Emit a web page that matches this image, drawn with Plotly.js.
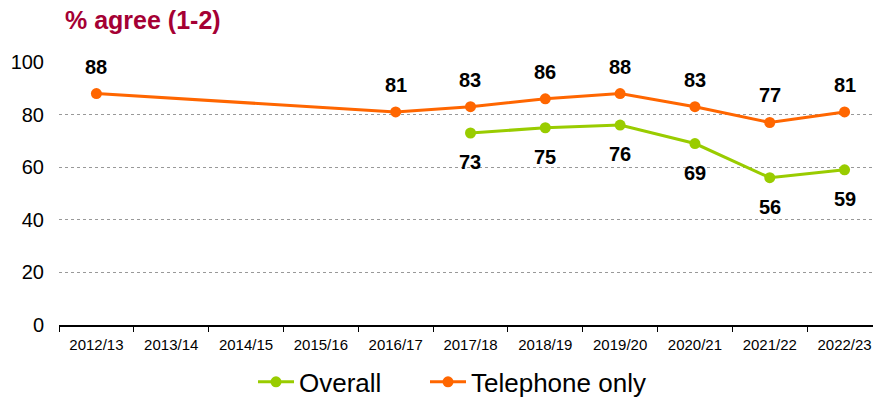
<!DOCTYPE html>
<html><head><meta charset="utf-8">
<script src="https://cdn.plot.ly/plotly-3.0.1.min.js"></script>
<style>body{margin:0;background:#fff}#c{width:873px;height:402px}</style>
</head><body><div id="c"></div>
<script>
var years = ["2012/13","2013/14","2014/15","2015/16","2016/17","2017/18","2018/19","2019/20","2020/21","2021/22","2022/23"];
var telephone = [88, null, null, null, 81, 83, 86, 88, 83, 77, 81];
var overall = [null, null, null, null, null, 73, 75, 76, 69, 56, 59];
var yTicks = [0, 20, 40, 60, 80, 100];

var orange = "#FF6600", green = "#99CC00";
var traces = [
  {x: years, y: overall, name: "Overall", type: "scatter", mode: "lines+markers", legend: "legend",
   line: {color: green, width: 3}, marker: {color: green, size: 11}, connectgaps: true, hoverinfo: "none"},
  {x: years, y: telephone, name: "Telephone only", type: "scatter", mode: "lines+markers", legend: "legend2",
   line: {color: orange, width: 3}, marker: {color: orange, size: 11}, connectgaps: true, hoverinfo: "none"}
];
var lblFont = {family: "Arial, Liberation Sans", size: 20, color: "#000", weight: "bold"};
var ann = [];
years.forEach(function(yr, i){
  if (telephone[i] != null) ann.push({x: yr, y: telephone[i], text: String(telephone[i]), showarrow: false, yshift: 27, font: lblFont});
  if (overall[i] != null) ann.push({x: yr, y: overall[i], text: String(overall[i]), showarrow: false, yshift: -29, font: lblFont});
});
ann.push({xref: "paper", yref: "paper", x: 0.005, y: 1.16, xanchor: "left", yanchor: "middle", showarrow: false,
  text: "<b>% agree (1-2)</b>", font: {family: "Arial, Liberation Sans", size: 25, color: "#A50034"}});

function legendAt(px) {
  return {orientation: "h", x: px/873, xanchor: "left", xref: "container", yref: "container", y: 0.05, yanchor: "middle",
    font: {family: "Arial, Liberation Sans", size: 26, color: "#000"}, itemwidth: 36, bgcolor: "rgba(0,0,0,0)"};
}
var layout = {
  width: 873, height: 402,
  margin: {l: 59, r: 0, t: 62, b: 77, autoexpand: false},
  paper_bgcolor: "#fff", plot_bgcolor: "#fff",
  showlegend: true,
  legend: legendAt(253),
  legend2: legendAt(425),
  xaxis: {type: "category", range: [-0.5, 10.38], tickson: "boundaries", ticks: "outside", ticklen: 5,
    tickcolor: "#000", showgrid: false, showline: true, linecolor: "#000", linewidth: 1.5, ticklabelstandoff: 5,
    tickfont: {family: "Arial, Liberation Sans", size: 15, color: "#000"}, fixedrange: true, automargin: false},
  yaxis: {range: [0, 100], tickvals: yTicks, ticktext: yTicks.map(String), showgrid: true,
    gridcolor: "#999", griddash: "dot", gridwidth: 1, zeroline: false, showline: false, ticks: "",
    ticklabelstandoff: 14, automargin: false,
    tickfont: {family: "Arial, Liberation Sans", size: 20, color: "#000"}, fixedrange: true},
  annotations: ann
};
Plotly.newPlot("c", traces, layout, {displayModeBar: false, staticPlot: true});
</script></body></html>
